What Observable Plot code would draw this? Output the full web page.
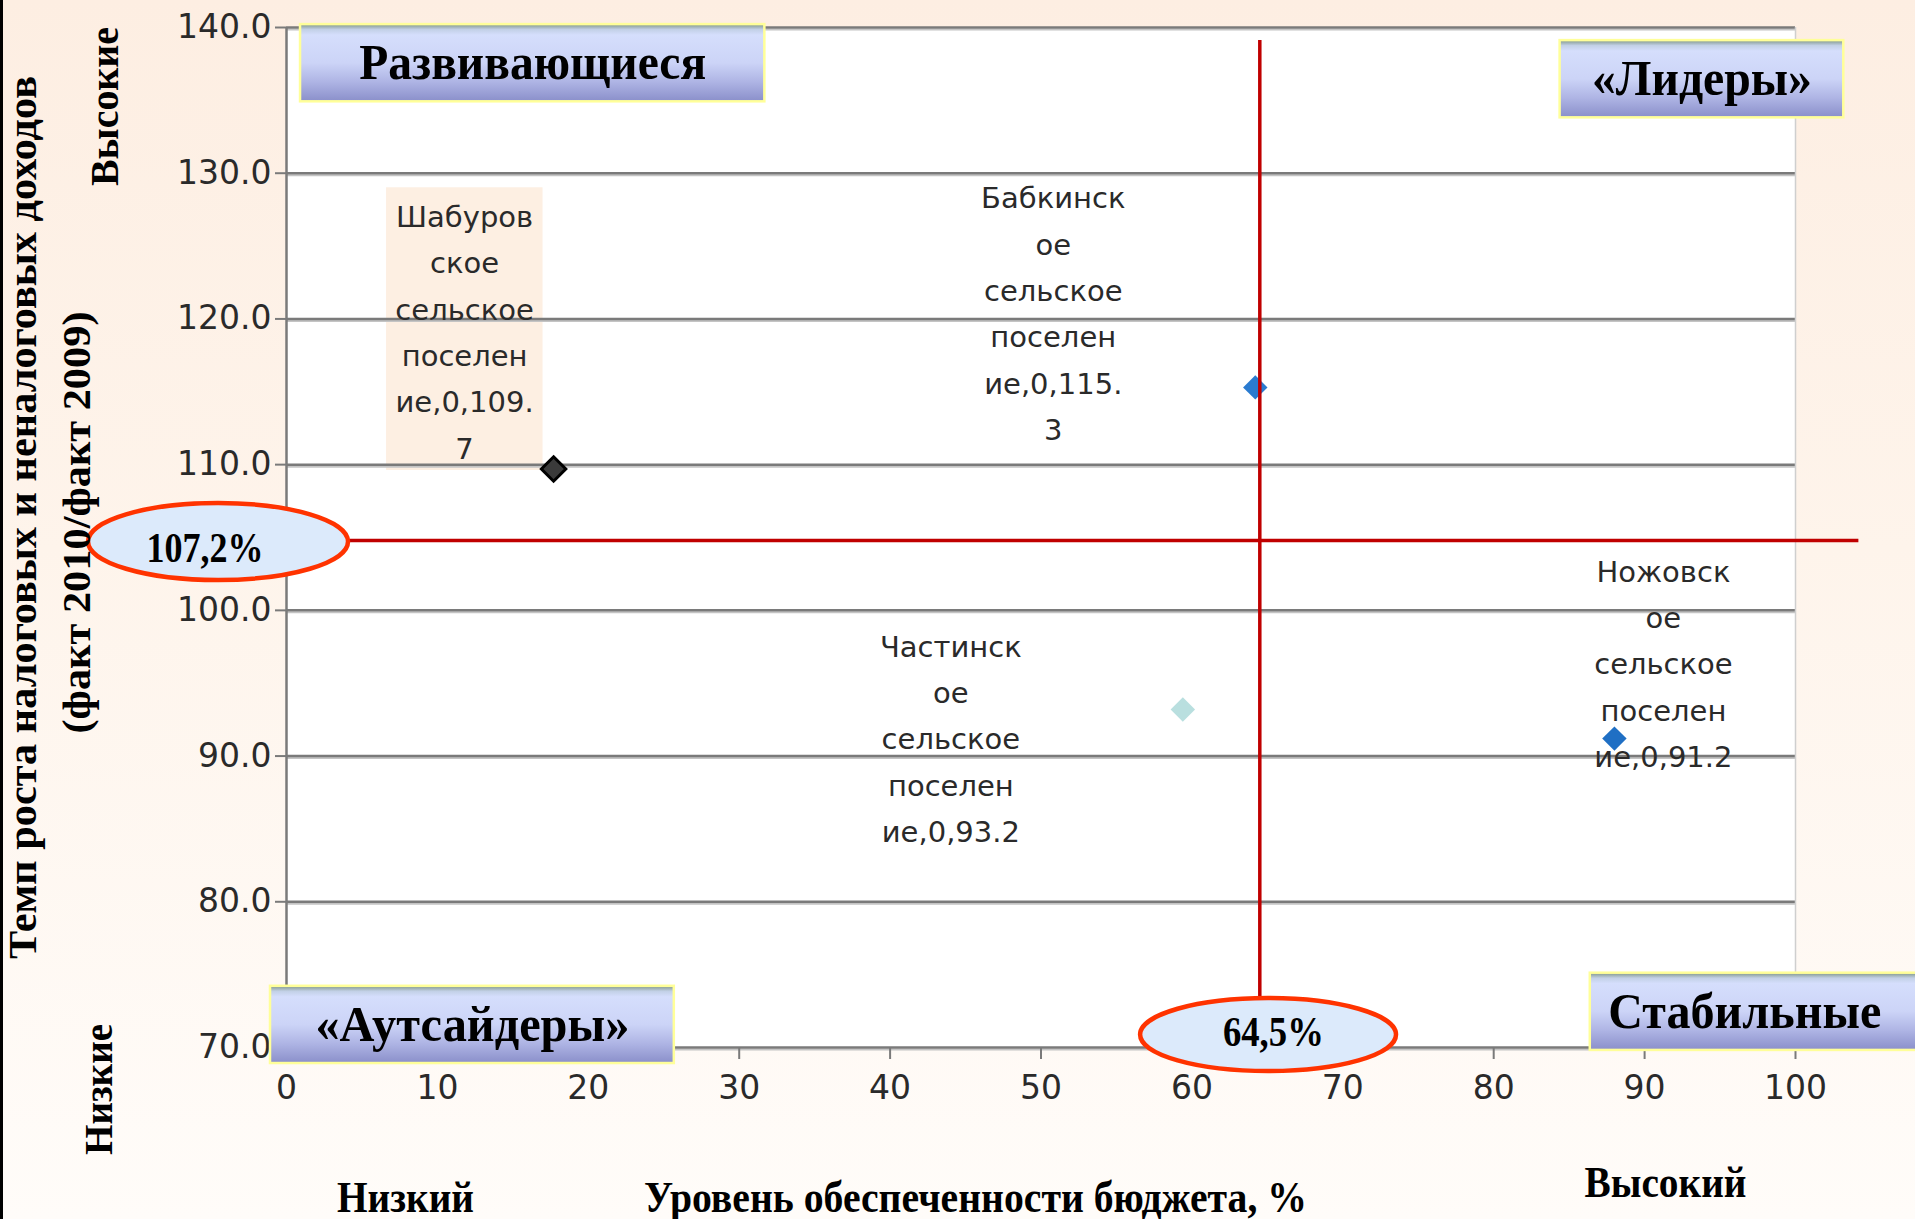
<!DOCTYPE html>
<html><head><meta charset="utf-8">
<script src="https://cdn.jsdelivr.net/npm/d3@7"></script>
<script src="https://cdn.jsdelivr.net/npm/@observablehq/plot@0.6"></script>
<style>
html,body{margin:0;padding:0;}
body{width:1915px;height:1219px;overflow:hidden;position:relative;
  background:linear-gradient(180deg,#fdeee2 0%,#fef4eb 45%,#fffcf9 100%);}
#edge{position:absolute;left:0;top:0;width:3px;height:1219px;background:#000;}
#chart svg{display:block;}
</style></head><body><div id="edge"></div><div id="chart"></div>
<script>
// ---------- DATA ----------
const names = ["Шабуровское сельское поселение", "Бабкинское сельское поселение", "Частинское сельское поселение", "Ножовское сельское поселение"];
const budgetLevel = [17.7, 64.2, 59.4, 88.0];      // Уровень обеспеченности бюджета, %
const growthRate = [109.7, 115.3, 93.2, 91.2];     // Темп роста доходов
const pointLabels = [
  "Шабуров\nское\nсельское\nпоселен\nие,0,109.\n7",
  "Бабкинск\nое\nсельское\nпоселен\nие,0,115.\n3",
  "Частинск\nое\nсельское\nпоселен\nие,0,93.2",
  "Ножовск\nое\nсельское\nпоселен\nие,0,91.2"
];
const xTicks = [0, 10, 20, 30, 40, 50, 60, 70, 80, 90, 100];
const yTicks = [70, 80, 90, 100, 110, 120, 130, 140];
const thresholdX = 64.5;
const thresholdXLabel = "64,5%";
const thresholdY = 104.8;            // where the line is drawn in the picture
const thresholdYLabel = "107,2%";
const quadrantLabels = ["Развивающиеся", "«Лидеры»", "«Аутсайдеры»", "Стабильные"];
const yTitle1 = "Темп роста налоговых и неналоговых доходов";
const yTitle2 = "(факт 2010/факт 2009)";
const yHigh = "Высокие", yLow = "Низкие";
const xTitle = "Уровень обеспеченности бюджета, %";
const xLow = "Низкий", xHigh = "Высокий";

// ---------- LAYOUT / STYLE ----------
const W = 1915, H = 1219;
const ML = 286, MR = 120, MT = 27, MB = 172;
const pointFill = ["#3a3a3a", "#2a7bd0", "#b9dfdf", "#1f6fc4"];
const pointStroke = ["#000", "none", "none", "none"];
const labelDx = [-89, -202, -232, 49];
const labelDy = [-141, -78, 25, -79];
const quadBoxes = [
  {x1: 0.93, x2: 31.7, y1: 134.9, y2: 140.2},
  {x1: 84.4, x2: 103.2, y1: 133.8, y2: 139.1},
  {x1: -1.06, x2: 25.7, y1: 68.9, y2: 74.2},
  {x1: 86.4, x2: 108.2, y1: 69.8, y2: 75.1}
];
const quadTextDx = [0, 0, 0, -10];
const ellipseY = {x1: -13.12, x2: 4.11, y1: 102.05, y2: 107.33, tx: -5.4, ty: 104.25};
const ellipseX = {x1: 56.6, x2: 73.56, y1: 68.35, y2: 73.36, tx: 65.4, ty: 71.03};
const labelBg = {x1: 6.63, x2: 17.0, y1: 109.6, y2: 129.0};
const fitWidths = new Map([
  ["Развивающиеся", 347], ["«Лидеры»", 220], ["«Аутсайдеры»", 314], ["Стабильные", 273],
  ["107,2%", 117], ["64,5%", 101],
  [yTitle1, 883], [yTitle2, 422], [yHigh, 159], [yLow, 131],
  [xTitle, 663], [xLow, 137], [xHigh, 162]
]);

const points = names.map((n, i) => ({name: n, x: budgetLevel[i], y: growthRate[i], label: pointLabels[i]}));

const serif = "'Liberation Serif', 'Times New Roman', serif";
const sans = "'DejaVu Sans', sans-serif";
const at = (px, py) => ({frameAnchor: "top-left", dx: px - ML, dy: py - MT, textAnchor: "middle", lineAnchor: "middle"});
const titleStyle = {fontSize: 41, fontWeight: "bold", fontFamily: serif, fill: "#000"};

const marks = [
  Plot.frame({fill: "white", stroke: "none"}),
  // label background (Шабуровское)
  Plot.rect([labelBg], {x1: "x1", x2: "x2", y1: "y1", y2: "y2", fill: "#fdefe2"}),
  // gridlines with shadow
  Plot.ruleY(yTicks, {stroke: "#c4c4c4", strokeWidth: 2, dy: 2}),
  Plot.ruleY(yTicks, {stroke: "#7a7a7a", strokeWidth: 2.5}),
  Plot.ruleX([100], {y1: 70, y2: 140, stroke: "#cfcfcf", strokeWidth: 1.5}),
  Plot.ruleX([0], {y1: 70, y2: 140, stroke: "#7a7a7a", strokeWidth: 2.5}),
  Plot.axisY({ticks: yTicks, tickFormat: d => d.toFixed(1), tickSize: 11, tickPadding: 4,
    fontSize: 33, fontFamily: sans, fill: "#2a2a2a", stroke: "#7a7a7a", strokeWidth: 2, label: null}),
  Plot.axisX({ticks: xTicks, tickFormat: d => String(d), tickSize: 12, tickPadding: 16,
    fontSize: 33, fontFamily: sans, fill: "#2a2a2a", stroke: "#7a7a7a", strokeWidth: 2, label: null}),
  // points
  Plot.dot(points, {x: "x", y: "y", symbol: "diamond2", r: 11,
    fill: (d, i) => pointFill[i], stroke: (d, i) => pointStroke[i], strokeWidth: 3}),
  // point labels
  ...points.map((p, i) => Plot.text([p], {x: "x", y: "y", text: "label", dx: labelDx[i], dy: labelDy[i],
    lineHeight: 1.6, fontSize: 29, fontFamily: sans, fill: "#2a2a2a"})),
  // threshold lines
  Plot.ruleX([thresholdX], {y1: ellipseX.y2, y2: 139.1, stroke: "#c00000", strokeWidth: 3.5}),
  Plot.ruleY([thresholdY], {x1: ellipseY.x2, x2: 104.2, stroke: "#c00000", strokeWidth: 3.5}),
  // quadrant label boxes
  Plot.rect(quadBoxes, {x1: "x1", x2: "x2", y1: "y1", y2: "y2", fill: "url(#qgrad)", stroke: "#ffff99", strokeWidth: 2.5}),
  ...quadBoxes.map((b, i) => Plot.text([{x: (b.x1 + b.x2) / 2, y: (b.y1 + b.y2) / 2, t: quadrantLabels[i]}],
    {x: "x", y: "y", text: "t", dx: quadTextDx[i], fontSize: 50, fontWeight: "bold", fontFamily: serif, fill: "#000"})),
  // threshold ellipses
  Plot.rect([ellipseY, ellipseX], {x1: "x1", x2: "x2", y1: "y1", y2: "y2", rx: 400, ry: 400,
    fill: "#dceafb", stroke: "#ff3300", strokeWidth: 4.5}),
  Plot.text([{x: ellipseY.tx, y: ellipseY.ty, t: thresholdYLabel}, {x: ellipseX.tx, y: ellipseX.ty, t: thresholdXLabel}],
    {x: "x", y: "y", text: "t", fontSize: 42, fontWeight: "bold", fontFamily: serif, fill: "#000"}),
  // axis titles
  Plot.text([yTitle1], {...at(22, 517), rotate: -90, ...titleStyle}),
  Plot.text([yTitle2], {...at(76, 522), rotate: -90, ...titleStyle}),
  Plot.text([yHigh], {...at(104, 106), rotate: -90, ...titleStyle}),
  Plot.text([yLow], {...at(98, 1089), rotate: -90, ...titleStyle}),
  Plot.text([xTitle], {...at(975, 1197), ...titleStyle, fontSize: 44}),
  Plot.text([xLow], {...at(405, 1197), ...titleStyle, fontSize: 44}),
  Plot.text([xHigh], {...at(1665, 1182), ...titleStyle, fontSize: 44})
];

const chart = Plot.plot({
  width: W, height: H,
  marginLeft: ML, marginRight: MR, marginTop: MT, marginBottom: MB,
  x: {domain: [0, 100]},
  y: {domain: [70, 140]},
  style: {background: "transparent", fontFamily: sans, overflow: "visible"},
  marks
});

const svg = d3.select(chart);
svg.insert("defs", ":first-child").html(`
  <linearGradient id="qgrad" x1="0" y1="0" x2="0" y2="1">
    <stop offset="0" stop-color="#7f9585"/>
    <stop offset="0.07" stop-color="#c2d0e6"/>
    <stop offset="0.14" stop-color="#d5defc"/>
    <stop offset="0.5" stop-color="#ccd4f7"/>
    <stop offset="0.75" stop-color="#aeb4e4"/>
    <stop offset="1" stop-color="#8a8fca"/>
  </linearGradient>`);
svg.selectAll("text").each(function () {
  const w = fitWidths.get(this.textContent);
  if (w) d3.select(this).attr("textLength", w).attr("lengthAdjust", "spacingAndGlyphs");
});
document.getElementById("chart").appendChild(chart);
</script></body></html>
